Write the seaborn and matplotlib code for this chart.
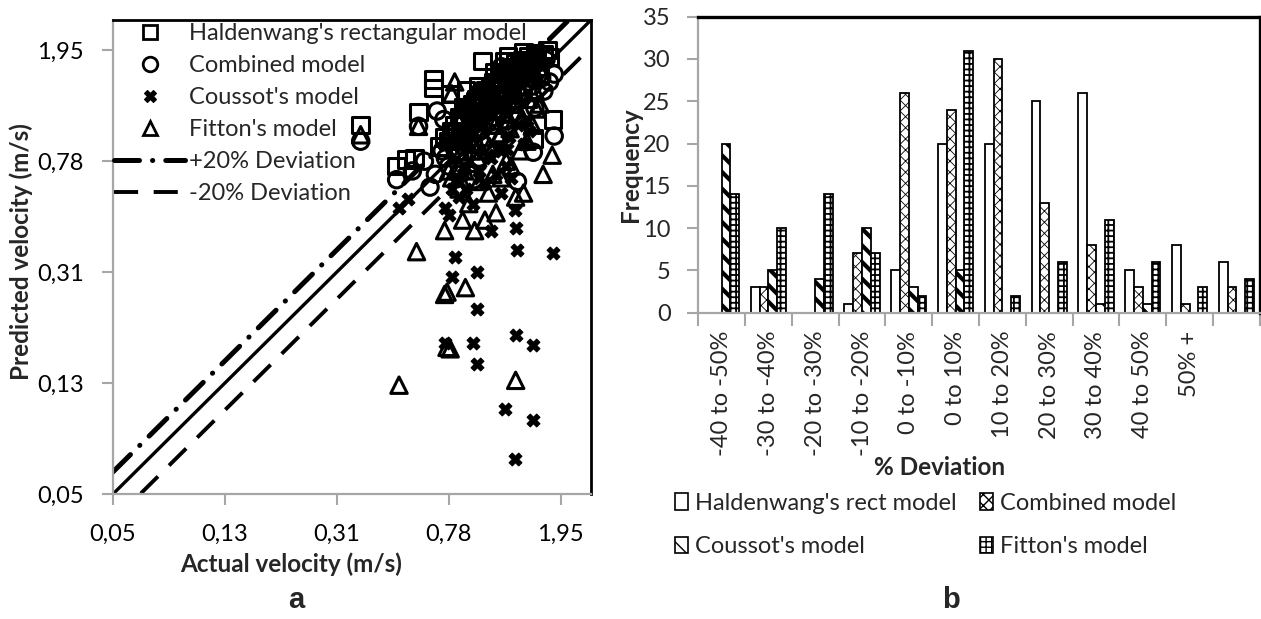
import numpy as np
import pandas as pd
import matplotlib
matplotlib.use("Agg")
import matplotlib.pyplot as plt
import seaborn as sns
from matplotlib.lines import Line2D
from matplotlib.patches import Patch
from matplotlib.ticker import FixedLocator, FixedFormatter, NullLocator

# ---------------- data: panel a (scatter) ----------------
hald_x = [0.51, 0.55, 0.59, 0.61, 0.69, 0.69, 0.38, 0.79, 0.90, 1.03, 1.23, 1.39, 1.78, 1.83, 1.56,
          0.72, 0.75, 0.80, 0.82, 0.85, 0.88, 0.90, 0.93, 0.95, 0.98, 1.00, 1.02, 1.05, 1.08, 1.10,
          1.12, 1.15, 1.18, 1.20, 1.25, 1.28, 1.30, 1.33, 1.35, 1.38, 1.42, 1.45, 1.50, 1.55, 1.60,
          1.30, 1.10, 0.95, 0.85, 1.65,
          0.78, 0.83, 0.87, 0.92, 0.97, 1.01, 1.06, 1.11, 1.16, 1.21, 1.26, 1.31, 1.36, 1.41, 1.47,
          1.52, 1.58, 1.63, 0.88, 0.99, 1.13, 1.27, 1.44, 1.70, 1.75]
hald_y = [0.75, 0.79, 0.80, 1.17, 1.53, 1.43, 1.05, 1.36, 1.40, 1.78, 1.78, 1.73, 1.84, 1.10, 0.94,
          0.88, 0.95, 1.00, 1.05, 1.12, 1.08, 1.20, 1.15, 1.25, 1.30, 1.22, 1.35, 1.40, 1.32, 1.45,
          1.50, 1.42, 1.55, 1.60, 1.52, 1.65, 1.70, 1.58, 1.75, 1.68, 1.80, 1.72, 1.85, 1.78, 1.82,
          1.25, 1.05, 0.90, 0.85, 1.60,
          0.92, 1.00, 1.10, 1.18, 1.28, 1.15, 1.38, 1.25, 1.48, 1.35, 1.62, 1.45, 1.55, 1.60, 1.75,
          1.65, 1.90, 1.70, 1.22, 1.45, 1.62, 1.85, 1.92, 1.88, 1.95]

comb_x = [0.51, 0.61, 0.71, 0.67, 0.38, 1.85, 1.70, 1.85, 1.58, 1.56, 0.96, 1.37, 0.58, 0.64, 0.70,
          0.74, 0.78, 0.80, 0.83, 0.86, 0.88, 0.90, 0.93, 0.95, 0.98, 1.00, 1.03, 1.05, 1.08, 1.10,
          1.13, 1.16, 1.20, 1.23, 1.26, 1.30, 1.33, 1.36, 1.40, 1.45, 1.50, 1.55, 1.62, 0.85, 1.00,
          1.15, 1.25, 0.75, 1.40, 1.20,
          0.76, 0.82, 0.87, 0.91, 0.96, 1.01, 1.06, 1.12, 1.17, 1.22, 1.28, 1.34, 1.39, 1.44, 1.49,
          1.55, 1.61, 1.67, 0.89, 1.04, 1.18, 1.31, 1.47, 1.73, 1.78]
comb_y = [0.67, 1.04, 1.18, 0.63, 0.92, 1.60, 1.39, 0.96, 1.21, 0.84, 0.67, 0.66, 0.72, 0.78, 0.70,
          0.85, 0.75, 0.92, 0.82, 0.95, 0.88, 1.00, 0.93, 1.05, 0.98, 1.10, 1.02, 1.15, 1.08, 1.20,
          1.12, 1.25, 1.18, 1.30, 1.22, 1.35, 1.28, 1.40, 1.33, 1.45, 1.50, 1.55, 1.58, 0.70, 0.80,
          0.95, 1.05, 1.10, 1.65, 1.70,
          0.80, 0.86, 0.98, 0.90, 1.12, 1.00, 1.20, 1.05, 1.32, 1.15, 1.45, 1.25, 1.52, 1.38, 1.62,
          1.45, 1.75, 1.55, 1.08, 1.28, 1.40, 1.60, 1.70, 1.80, 1.50]

cous_x = [0.52, 0.56, 0.82, 0.805, 0.98, 0.98, 1.36, 1.83, 0.755, 0.955, 0.98, 1.35, 1.55, 1.24,
          1.55, 1.34, 1.34, 1.35, 1.10, 0.755, 0.78, 0.85, 0.90, 0.95, 1.05, 1.15, 1.20, 1.25, 1.30,
          0.80, 0.88, 1.00, 1.10, 1.20, 1.45, 1.50, 0.92, 1.28,
          0.82, 0.90, 1.00, 1.08, 1.18, 1.26, 1.38, 1.48]
cous_y = [0.53, 0.57, 0.355, 0.30, 0.312, 0.23, 0.375, 0.365, 0.174, 0.174, 0.146, 0.186, 0.172,
          0.101, 0.092, 0.067, 0.52, 0.45, 0.44, 0.53, 0.50, 0.58, 0.62, 0.55, 0.65, 0.70, 0.60,
          0.75, 0.68, 0.62, 0.70, 0.72, 0.80, 0.85, 0.90, 1.00, 0.78, 0.95,
          0.66, 0.74, 0.68, 0.82, 0.88, 0.86, 1.05, 1.10]

fitt_x = [0.52, 0.60, 0.755, 0.77, 0.895, 0.77, 0.79, 1.35, 0.755, 0.875, 0.965, 1.05, 1.15, 1.35,
          1.44, 1.69, 1.82, 0.82, 0.80, 0.61, 0.38, 0.78, 0.85, 0.92, 1.00, 1.08, 1.12, 1.20, 1.25,
          1.30, 1.40, 1.48, 1.55, 0.88, 0.95, 1.02, 1.18, 1.28, 1.60, 1.38,
          0.80, 0.84, 0.89, 0.94, 0.99, 1.04, 1.09, 1.14, 1.19, 1.24, 1.29, 1.34, 1.42, 1.50, 1.58,
          1.65, 0.86, 0.97, 1.07, 1.17, 1.32, 1.46]
fitt_y = [0.123, 0.37, 0.26, 0.265, 0.275, 0.168, 0.166, 0.128, 0.44, 0.48, 0.44, 0.48, 0.51, 0.58,
          0.60, 0.70, 0.82, 1.50, 1.36, 1.04, 0.97, 0.72, 0.62, 0.55, 0.66, 0.60, 0.70, 0.68, 0.78,
          0.75, 0.85, 0.92, 1.05, 0.80, 0.90, 0.85, 0.95, 1.10, 1.20, 1.30,
          0.68, 0.75, 0.72, 0.85, 0.80, 0.95, 0.88, 1.05, 0.98, 1.15, 1.02, 1.25, 1.12, 1.30, 1.40,
          1.25, 0.95, 1.08, 1.18, 1.28, 1.45, 1.55]

axis_limits = [0.05, 2.5]
tick_values = [0.05, 0.125, 0.3125, 0.78125, 1.953125]
tick_labels = ["0,05", "0,13", "0,31", "0,78", "1,95"]
deviation_factors = [1.0, 1.2, 0.8]
scatter_labels = ["Haldenwang's rectangular model", "Combined model", "Coussot's model", "Fitton's model"]
line_labels = ["+20% Deviation", "-20% Deviation"]

# ---------------- data: panel b (bars) ----------------
categories = ["-40 to -50%", "-30 to -40%", "-20 to -30%", "-10 to -20%", "0 to -10%", "0 to 10%",
              "10 to 20%", "20 to 30%", "30 to 40%", "40 to 50%", "50% +", " "]
freq_hald = [0, 3, 0, 1, 5, 20, 20, 25, 26, 5, 8, 6]
freq_comb = [0, 3, 0, 7, 26, 24, 30, 13, 8, 3, 1, 3]
freq_cous = [20, 5, 4, 10, 3, 5, 0, 0, 1, 1, 0, 0]
freq_fitt = [14, 10, 14, 7, 2, 31, 2, 6, 11, 6, 3, 4]
bar_models = ["Haldenwang's rect model", "Combined model", "Coussot's model", "Fitton's model"]

# ---------------- style ----------------
sns.set_theme(style="white")
plt.rcParams["font.family"] = ["Lato", "DejaVu Sans"]
GRAY = "#a6a6a6"
FS = 17
FSB = 17.5

W, H = 1261, 619
fig = plt.figure(figsize=(W / 100, H / 100), dpi=100)

def px_axes(l, t, r, b):
    return [l / W, 1 - b / H, (r - l) / W, (b - t) / H]

ax1 = fig.add_axes(px_axes(112.7, 20, 591, 494.3))
ax2 = fig.add_axes(px_axes(698.3, 16.7, 1259.7, 312.7))

# ================= panel a =================
ax1.set_xscale("log", base=2.5)
ax1.set_yscale("log", base=2.5)
ax1.set_xlim(axis_limits)
ax1.set_ylim(axis_limits)

lim = np.array(axis_limits)
line_styles = [
    dict(lw=2.4, ls="-"),
    dict(lw=3.6, ls=(0, (5, 2.6, 0.05, 2.6)), dash_capstyle="round"),
    dict(lw=2.8, ls=(0, (6.2, 4.0))),
]
for f, st in zip(deviation_factors, line_styles):
    sns.lineplot(x=lim, y=f * lim, color="black", ax=ax1, zorder=2, **st)

mk = dict(s=140, linewidth=2.2, zorder=3)
sns.scatterplot(x=hald_x, y=hald_y, marker="s", facecolor="none", edgecolor="black", ax=ax1, **mk)
sns.scatterplot(x=comb_x, y=comb_y, marker="o", facecolor="none", edgecolor="black", ax=ax1, **mk)
sns.scatterplot(x=cous_x, y=cous_y, marker="X", color="black", edgecolor="black", ax=ax1,
                s=85, linewidth=0.8, zorder=3)
sns.scatterplot(x=fitt_x, y=fitt_y, marker="^", facecolor="none", edgecolor="black", ax=ax1, **mk)

ax1.xaxis.set_major_locator(FixedLocator(tick_values))
ax1.yaxis.set_major_locator(FixedLocator(tick_values))
ax1.xaxis.set_major_formatter(FixedFormatter(tick_labels))
ax1.yaxis.set_major_formatter(FixedFormatter(tick_labels))
ax1.xaxis.set_minor_locator(NullLocator())
ax1.yaxis.set_minor_locator(NullLocator())
ax1.tick_params(axis="both", which="major", direction="out", length=8, width=1.5, color=GRAY,
                labelsize=FS, labelcolor="black", pad=13, left=True, bottom=True)

for side in ["left", "bottom"]:
    ax1.spines[side].set_color(GRAY)
    ax1.spines[side].set_linewidth(1.6)
for side in ["top", "right"]:
    ax1.spines[side].set_color("black")
    ax1.spines[side].set_linewidth(2.0)

ax1.set_xlabel("Actual velocity (m/s)", fontsize=FSB, fontweight="bold")
ax1.set_ylabel("Predicted velocity (m/s)", fontsize=FSB, fontweight="bold")
ax1.xaxis.set_label_coords((291 - 112.7) / 478.3, (494.3 - 552) / 474.3)
ax1.yaxis.set_label_coords((33 - 112.7) / 478.3, (494.3 - 252) / 474.3)

handles1 = [
    Line2D([], [], marker="s", ls="none", mfc="none", mec="black", ms=10.5, mew=2.0),
    Line2D([], [], marker="o", ls="none", mfc="none", mec="black", ms=10.5, mew=2.0),
    Line2D([], [], marker="X", ls="none", mfc="black", mec="black", ms=9, mew=0.8),
    Line2D([], [], marker="^", ls="none", mfc="none", mec="black", ms=10.5, mew=2.0),
    Line2D([], [], color="black", **line_styles[1]),
    Line2D([], [], color="black", **line_styles[2]),
]
ax1.legend(handles1, scatter_labels + line_labels, loc="upper left",
           bbox_to_anchor=(0.003, 1.0 - 3 / 474.3), frameon=False, fontsize=FS, borderpad=0.0,
           borderaxespad=0.0, handlelength=3.0, handletextpad=0.15, labelspacing=0.47,
           numpoints=1)

fig.text(296 / W, 1 - 600 / H, "a", fontsize=21, fontweight="bold",
         family="Liberation Sans", ha="center", va="center")

# ================= panel b =================
df = pd.DataFrame({
    "Deviation": categories * 4,
    "Frequency": freq_hald + freq_comb + freq_cous + freq_fitt,
    "Model": sum([[m] * len(categories) for m in bar_models], []),
})
sns.barplot(data=df, x="Deviation", y="Frequency", hue="Model", order=categories,
            hue_order=bar_models, palette={m: "white" for m in bar_models}, saturation=1,
            edgecolor="black", linewidth=1.3, width=0.75, errorbar=None, legend=False, ax=ax2)

hatches = ["", "xxx", "\\\\", "+++"]
hatch_lw = [1.0, 0.6, 3.0, 1.3]
for cont, h, hl in zip(ax2.containers, hatches, hatch_lw):
    for p in cont.patches:
        p.set_hatch(h)
        if hasattr(p, "set_hatch_linewidth"):
            p.set_hatch_linewidth(hl)
        if p.get_height() == 0:
            p.set_visible(False)

ax2.set_xlim(-0.5, len(categories) - 0.5)
ax2.set_ylim(0, 35)
ax2.set_yticks(range(0, 36, 5))
ax2.set_xticks(range(len(categories)))
ax2.set_xticklabels(categories, rotation=90)
ax2.set_xticks(np.arange(-0.5, len(categories), 1.0), minor=True)
ax2.tick_params(axis="x", which="major", length=0, pad=13, labelsize=FS, bottom=True)
ax2.tick_params(axis="x", which="minor", direction="out", length=9, width=1.5, color=GRAY, bottom=True)
ax2.tick_params(axis="y", which="major", direction="out", length=8, width=1.5, color=GRAY,
                labelsize=FS, pad=12, left=True)
for side in ["left", "bottom"]:
    ax2.spines[side].set_color(GRAY)
    ax2.spines[side].set_linewidth(1.6)
for side in ["top", "right"]:
    ax2.spines[side].set_color("black")
    ax2.spines[side].set_linewidth(2.4)

ax2.set_ylabel("Frequency", fontsize=FSB, fontweight="bold")
ax2.yaxis.set_label_coords((642 - 698.3) / 561.4, 0.5)
ax2.set_xlabel("% Deviation", fontsize=FSB, fontweight="bold")
ax2.xaxis.set_label_coords((940 - 698.3) / 561.4, (312.7 - 456) / 296)

handles2 = [Patch(facecolor="white", edgecolor="black", hatch=h, linewidth=1.2) for h in hatches]
order = [0, 2, 1, 3]
fig.legend([handles2[i] for i in order], [bar_models[i] for i in order], loc="upper left",
           bbox_to_anchor=(675 / W, 1 - 493 / H), ncol=2, frameon=False, fontsize=FS,
           borderpad=0.0, borderaxespad=0.0, handlelength=0.55, handleheight=0.7,
           handletextpad=0.3, labelspacing=0.95, columnspacing=1.0)

fig.text(951 / W, 1 - 600 / H, "b", fontsize=21, fontweight="bold",
         family="Liberation Sans", ha="center", va="center")

fig.savefig("out.png", dpi=100, facecolor="white")
